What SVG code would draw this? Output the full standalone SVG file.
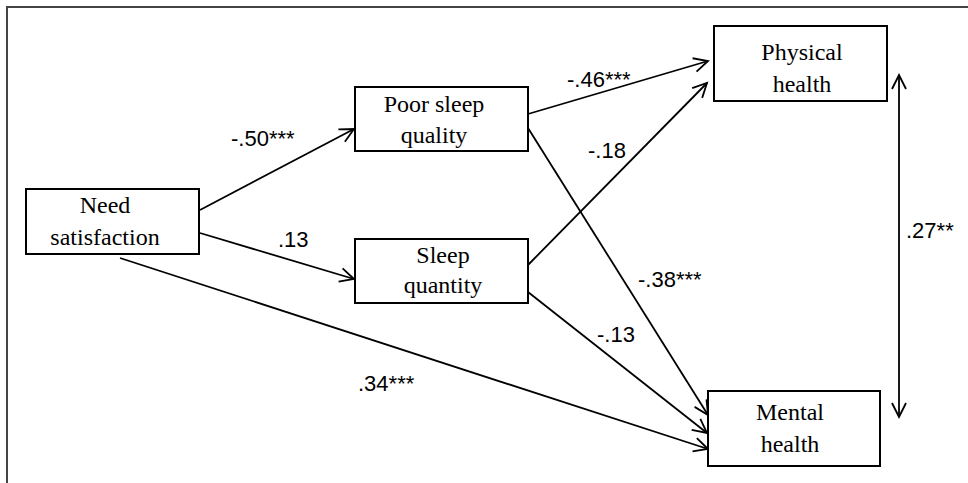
<svg xmlns="http://www.w3.org/2000/svg" width="968" height="483" viewBox="0 0 968 483">
<style>
.box{fill:#fff;stroke:#000;stroke-width:2}
.nt{font-family:"Liberation Serif","Times New Roman",serif;font-size:24px;fill:#000;text-anchor:middle}
.lb{font-family:"Liberation Sans",Arial,sans-serif;font-size:22px;fill:#000}
.ln{stroke:#000;stroke-width:1.8;fill:none}
</style>
<defs>
<marker id="ah" markerUnits="userSpaceOnUse" markerWidth="20" markerHeight="20" viewBox="-16 -10 20 20" refX="0" refY="0" orient="auto-start-reverse">
<path d="M-14,-7 L0,0 L-14,7" fill="none" stroke="#000" stroke-width="1.8"/>
</marker>
</defs>
<rect width="968" height="483" fill="#fff"/>
<path d="M7,483 L7,7 L968,7" fill="none" stroke="#444" stroke-width="2"/>
<g id="connectors">
<line class="ln" x1="200" y1="210" x2="354" y2="129" marker-end="url(#ah)"/>
<line class="ln" x1="200" y1="233" x2="354" y2="279" marker-end="url(#ah)"/>
<line class="ln" x1="120" y1="258" x2="708" y2="449" marker-end="url(#ah)"/>
<line class="ln" x1="528" y1="114" x2="708" y2="61" marker-end="url(#ah)"/>
<line class="ln" x1="528" y1="128" x2="708" y2="415" marker-end="url(#ah)"/>
<line class="ln" x1="528" y1="265" x2="707" y2="83" marker-end="url(#ah)"/>
<line class="ln" x1="528" y1="292" x2="707" y2="433" marker-end="url(#ah)"/>
<line class="ln" x1="899" y1="75" x2="899" y2="417" marker-start="url(#ah)" marker-end="url(#ah)"/>
<text class="lb" x="231" y="146">-.50***</text>
<text class="lb" x="278" y="247">.13</text>
<text class="lb" x="567" y="87">-.46***</text>
<text class="lb" x="588" y="158">-.18</text>
<text class="lb" x="638" y="287">-.38***</text>
<text class="lb" x="597" y="342">-.13</text>
<text class="lb" x="358" y="391">.34***</text>
<text class="lb" x="906" y="238">.27**</text>
</g>
<g id="need">
<rect class="box" x="26" y="189" width="173" height="65"/>
<text class="nt" x="105" y="213">Need</text>
<text class="nt" x="105" y="245">satisfaction</text>
</g>
<g id="poor">
<rect class="box" x="355" y="87" width="173" height="64"/>
<text class="nt" x="434" y="112">Poor sleep</text>
<text class="nt" x="434" y="143">quality</text>
</g>
<g id="quantity">
<rect class="box" x="355" y="239" width="173" height="64"/>
<text class="nt" x="443" y="263">Sleep</text>
<text class="nt" x="443" y="293">quantity</text>
</g>
<g id="physical">
<rect class="box" x="714" y="26" width="173" height="75"/>
<text class="nt" x="802" y="60">Physical</text>
<text class="nt" x="802" y="92">health</text>
</g>
<g id="mental">
<rect class="box" x="708" y="391" width="172" height="75"/>
<text class="nt" x="790" y="420">Mental</text>
<text class="nt" x="790" y="452">health</text>
</g>
</svg>
